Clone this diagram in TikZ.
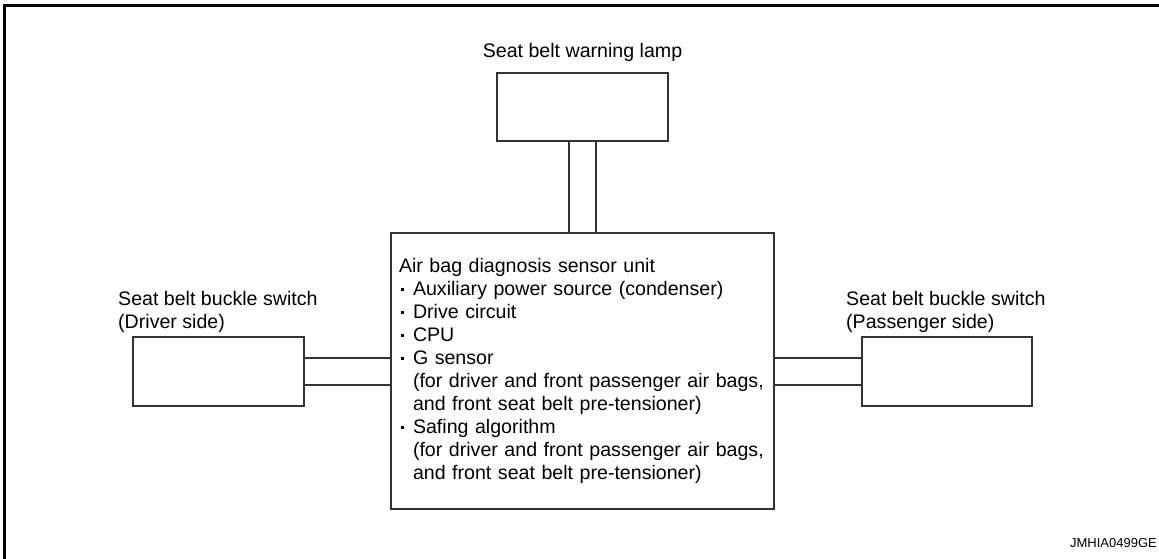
\documentclass[tikz,border=0pt]{standalone}
\usepackage{fontspec}
\setmainfont{Liberation Sans}
\usepackage{tikz}
\usetikzlibrary{positioning}
\definecolor{wire}{gray}{0.2}
\newcommand{\itemdot}{\makebox[14pt][l]{\hspace{2pt}\rule[5pt]{2.8pt}{2.8pt}}}

\begin{document}
\begin{tikzpicture}[x=1pt, y=1pt,
                    box/.style={rectangle, draw=wire, line width=1.3pt, inner sep=0pt},
                    lbl/.style={inner sep=0pt, align=left, font=\fontsize{19.6}{23}\selectfont},
                    conn/.style={draw=wire, line width=1.3pt}]
    \useasboundingbox (0,0) rectangle (1159,-558);
    % outer frame
    \draw[line width=3pt] (4.5,-600) -- (4.5,-5.5) -- (1200,-5.5);
    % units
    \node[box, minimum width=171pt, minimum height=68pt] (lamp) at (582.5,-107) {};
    \node[box, minimum width=171pt, minimum height=69pt] (drv) at (218.5,-371.5) {};
    \node[box, minimum width=170pt, minimum height=69pt] (pas) at (947,-371.5) {};
    \node[box, minimum height=276pt, text width=367pt, inner xsep=8pt, align=left,
          font=\fontsize{19.6}{23}\selectfont] (unit) at (582.5,-371) {%
      Air bag diagnosis sensor unit\\
      \itemdot Auxiliary power source (condenser)\\
      \itemdot Drive circuit\\
      \itemdot CPU\\
      \itemdot G sensor\\
      \hspace*{14pt}(for driver and front passenger air bags,\\
      \hspace*{14pt}and front seat belt pre-tensioner)\\
      \itemdot Safing algorithm\\
      \hspace*{14pt}(for driver and front passenger air bags,\\
      \hspace*{14pt}and front seat belt pre-tensioner)};
    % labels
    \node[lbl] (lampname) at (582.5,-52) {Seat belt warning lamp};
    \node[lbl, anchor=west] (drvname) at (118,-311.5) {Seat belt buckle switch\\(Driver side)};
    \node[lbl, anchor=west] (pasname) at (846,-311.5) {Seat belt buckle switch\\(Passenger side)};
    \node[inner sep=0pt, anchor=east, font=\fontsize{13}{15}\selectfont] (code) at (1157,-543) {JMHIA0499GE};
    % harness
    \foreach \d in {-13.5,13.5}{
      \draw[conn] ([xshift=\d pt]lamp.south) -- ([xshift=\d pt]unit.north);
      \draw[conn] ([yshift=\d pt]drv.east) -- ([yshift=\d pt]drv.east -| unit.west);
      \draw[conn] ([yshift=\d pt]pas.west) -- ([yshift=\d pt]pas.west -| unit.east);
    }
\end{tikzpicture}
\end{document}
